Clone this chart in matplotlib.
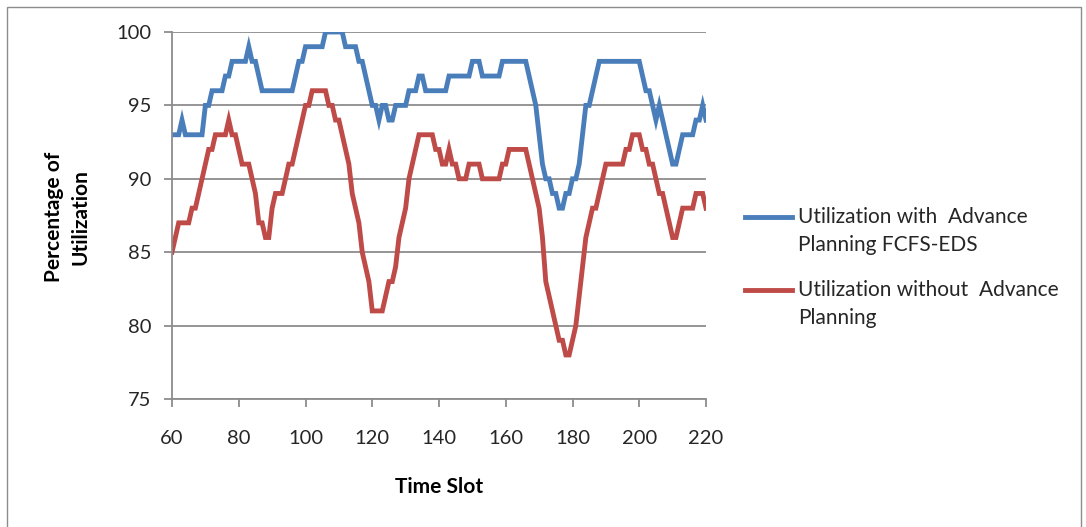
import matplotlib
matplotlib.use("Agg")
import matplotlib.pyplot as plt
from matplotlib.lines import Line2D
from matplotlib.patches import Rectangle

# Time slots 60..220, one utilization reading per slot
time_slots = list(range(60, 221))

with_planning = [
    93, 93, 93, 94, 93, 93, 93, 93, 93, 93,   # 60-69
    95, 95, 96, 96, 96, 96, 97, 97, 98, 98,   # 70-79
    98, 98, 98, 99, 98, 98, 97, 96, 96, 96,   # 80-89
    96, 96, 96, 96, 96, 96, 96, 97, 98, 98,   # 90-99
    99, 99, 99, 99, 99, 99, 100, 100, 100, 100,  # 100-109
    100, 100, 99, 99, 99, 99, 98, 98, 97, 96,  # 110-119
    95, 95, 94, 95, 95, 94, 94, 95, 95, 95,   # 120-129
    95, 96, 96, 96, 97, 97, 96, 96, 96, 96,   # 130-139
    96, 96, 96, 97, 97, 97, 97, 97, 97, 97,   # 140-149
    98, 98, 98, 97, 97, 97, 97, 97, 97, 98,   # 150-159
    98, 98, 98, 98, 98, 98, 98, 97, 96, 95,   # 160-169
    93, 91, 90, 90, 89, 89, 88, 88, 89, 89,   # 170-179
    90, 90, 91, 93, 95, 95, 96, 97, 98, 98,   # 180-189
    98, 98, 98, 98, 98, 98, 98, 98, 98, 98,   # 190-199
    98, 97, 96, 96, 95, 94, 95, 94, 93, 92,   # 200-209
    91, 91, 92, 93, 93, 93, 93, 94, 94, 95,   # 210-219
    94,                                       # 220
]

without_planning = [
    85, 86, 87, 87, 87, 87, 88, 88, 89, 90,   # 60-69
    91, 92, 92, 93, 93, 93, 93, 94, 93, 93,   # 70-79
    92, 91, 91, 91, 90, 89, 87, 87, 86, 86,   # 80-89
    88, 89, 89, 89, 90, 91, 91, 92, 93, 94,   # 90-99
    95, 95, 96, 96, 96, 96, 96, 95, 95, 94,   # 100-109
    94, 93, 92, 91, 89, 88, 87, 85, 84, 83,   # 110-119
    81, 81, 81, 81, 82, 83, 83, 84, 86, 87,   # 120-129
    88, 90, 91, 92, 93, 93, 93, 93, 93, 92,   # 130-139
    92, 91, 91, 92, 91, 91, 90, 90, 90, 91,   # 140-149
    91, 91, 91, 90, 90, 90, 90, 90, 90, 91,   # 150-159
    91, 92, 92, 92, 92, 92, 92, 91, 90, 89,   # 160-169
    88, 86, 83, 82, 81, 80, 79, 79, 78, 78,   # 170-179
    79, 80, 82, 84, 86, 87, 88, 88, 89, 90,   # 180-189
    91, 91, 91, 91, 91, 91, 92, 92, 93, 93,   # 190-199
    93, 92, 92, 91, 91, 90, 89, 89, 88, 87,   # 200-209
    86, 86, 87, 88, 88, 88, 88, 89, 89, 89,   # 210-219
    88,                                       # 220
]

series_labels = [
    "Utilization with  Advance\nPlanning FCFS-EDS",
    "Utilization without  Advance\nPlanning",
]
x_ticks = [60, 80, 100, 120, 140, 160, 180, 200, 220]
y_ticks = [75, 80, 85, 90, 95, 100]

BLUE = "#4A7EBB"
RED = "#BE4B48"
GRID = "#8C8C8C"
TEXT = "#262626"

plt.rcParams["font.family"] = ["Lato", "DejaVu Sans"]

fig = plt.figure(figsize=(10.86, 5.27), dpi=100)
W, H = 1086, 527
ax = fig.add_axes([172 / W, 1 - 399 / H, (706 - 172) / W, (399 - 32) / H])

ax.plot(time_slots, with_planning, color=BLUE, lw=3.5, solid_joinstyle="miter")
ax.plot(time_slots, without_planning, color=RED, lw=3.5, solid_joinstyle="miter")

ax.set_xlim(60, 220)
ax.set_ylim(75, 100)
ax.set_xticks(x_ticks)
ax.set_yticks(y_ticks)
ax.yaxis.grid(True, color=GRID, lw=1.3)
ax.set_axisbelow(True)
for side in ("top", "right"):
    ax.spines[side].set_visible(False)
for side in ("left", "bottom"):
    ax.spines[side].set_color(GRID)
    ax.spines[side].set_linewidth(1.3)
ax.tick_params(axis="both", direction="out", length=6, width=1.3, color=GRID,
               labelsize=14.5, labelcolor=TEXT)
ax.tick_params(axis="x", pad=16)
ax.tick_params(axis="y", pad=9)

ax.set_xlabel("Time Slot", fontsize=15, fontweight="bold", color="black", labelpad=22)
fig.text(67 / W, 1 - 217 / H, "Percentage of\nUtilization", rotation=90,
         ha="center", va="center", fontsize=15, fontweight="bold",
         color="black", linespacing=1.4)

# legend entries, handle aligned with the first text line
for color, label, y_px in zip([BLUE, RED], series_labels, [217, 290]):
    fig.add_artist(Line2D([745 / W, 792 / W], [1 - y_px / H] * 2, color=color, lw=3.5))
    fig.text(798 / W, 1 - (y_px - 10) / H, label, ha="left", va="top",
             fontsize=15, color=TEXT, linespacing=1.5)

# outer chart border
fig.add_artist(Rectangle((7 / W, -0.05), (1081 - 7) / W, 1.05 - 7 / H,
                         transform=fig.transFigure, fill=False,
                         edgecolor="#8C8C8C", lw=1.0))

fig.savefig("out.png", dpi=100)
